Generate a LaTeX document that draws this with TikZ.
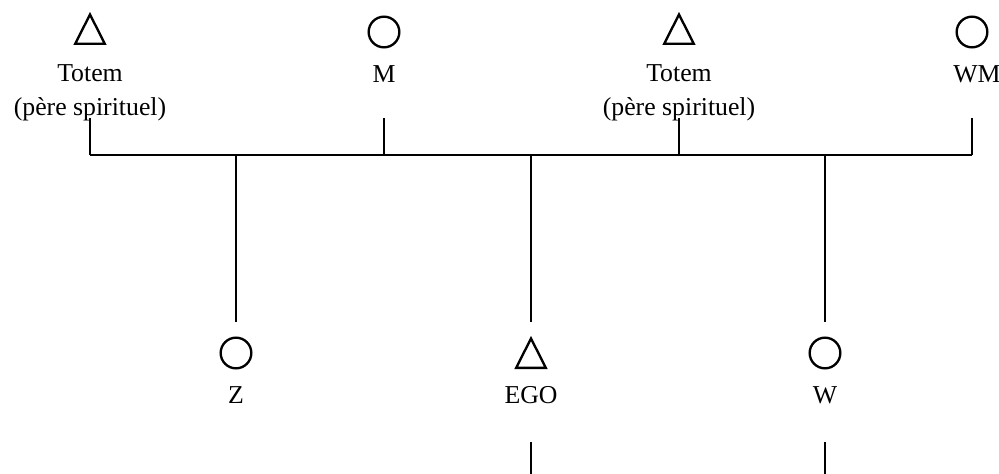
\documentclass[tikz,border=0pt]{standalone}
\usepackage{fontspec}
\setmainfont{Liberation Serif}
\usetikzlibrary{positioning,shapes.geometric}

\begin{document}
\begin{tikzpicture}[x=0.03cm,y=-0.03cm,line width=2pt,node distance=4.8mm,
  every node/.style={font=\fontsize{22}{29}\selectfont},
  male/.style={draw,isosceles triangle,isosceles triangle stretches,shape border rotate=90,minimum width=8.9mm,minimum height=8.8mm,inner sep=0pt,anchor=south},
  female/.style={draw,circle,minimum size=9.2mm,inner sep=0pt},
  lbl/.style={align=center,inner sep=0pt}]
\useasboundingbox (0,0) rectangle (999,474);
% upper generation
\node[male] (ta) at (90,45) {};
\node[female] (m) at (384,32) {};
\node[male] (tb) at (679,45) {};
\node[female] (wm) at (972,32) {};
\node[lbl,below=5.6mm of ta] (lta) {Totem\\(père spirituel)};
\node[lbl,below=of m] (lm) {M};
\node[lbl,below=5.6mm of tb] (ltb) {Totem\\(père spirituel)};
\node[lbl,below=of wm,xshift=1.5mm] (lwm) {WM};
% lower generation
\node[female] (z) at (236,353) {};
\node[male] (ego) at (531,369) {};
\node[female] (w) at (825,353) {};
\node[lbl,below=of z] (lz) {Z};
\node[lbl,below=of ego] (lego) {EGO};
\node[lbl,below=of w] (lw) {W};
% levels
\coordinate (top) at (0,118);
\coordinate (bar) at (0,155);
\coordinate (low) at (0,322);
\coordinate (next) at (0,442);
\coordinate (edge) at (0,474);
\draw (ta |- bar) -- (wm |- bar);
\draw (ta |- top) -- (ta |- bar);
\draw (m |- top) -- (m |- bar);
\draw (tb |- top) -- (tb |- bar);
\draw (wm |- top) -- (wm |- bar);
\draw (z |- bar) -- (z |- low);
\draw (ego |- bar) -- (ego |- low);
\draw (w |- bar) -- (w |- low);
\draw (ego |- next) -- (ego |- edge);
\draw (w |- next) -- (w |- edge);
\end{tikzpicture}
\end{document}
